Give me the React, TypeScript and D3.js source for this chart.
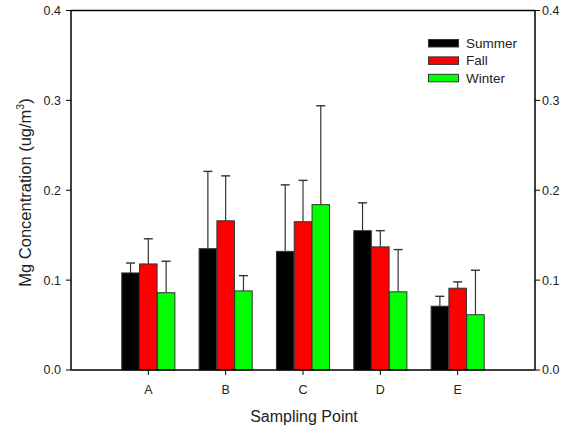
import React from "react";
import * as d3 from "d3";

const categories = ["A", "B", "C", "D", "E"];
const seriesNames = ["Summer", "Fall", "Winter"];
const seriesColors = ["#000000", "#ff0000", "#00ff00"];
const summer = [0.108, 0.135, 0.132, 0.155, 0.071];
const fall = [0.118, 0.166, 0.165, 0.137, 0.091];
const winter = [0.086, 0.088, 0.184, 0.087, 0.0615];
const summerErr = [0.011, 0.086, 0.074, 0.031, 0.011];
const fallErr = [0.028, 0.05, 0.046, 0.018, 0.007];
const winterErr = [0.035, 0.017, 0.11, 0.047, 0.0495];
const yTicks = [0, 0.1, 0.2, 0.3, 0.4];

const W = 571, H = 432;
const L = 71, R = 535, T = 10.5, B = 370;
const FONT = "Liberation Sans, Arial, sans-serif";

export default function App() {
  const x = d3.scalePoint<string>().domain(categories).range([L, R]).padding(1);
  const y = d3.scaleLinear().domain([0, 0.4]).range([B, T]);
  const values = [summer, fall, winter];
  const errs = [summerErr, fallErr, winterErr];
  const bw = 17.5;
  const gap = 0.3;

  return (
    <svg width={W} height={H} style={{ position: "absolute", left: 0, top: 0, background: "#fff" }}>
      <rect x={0} y={0} width={W} height={H} fill="#fff" />
      {categories.map((c, i) =>
        values.map((vals, s) => {
          const cx = (x(c) as number) + (s - 1) * (bw + gap);
          const x0 = cx - bw / 2;
          const top = y(vals[i]);
          const et = y(vals[i] + errs[s][i]);
          return (
            <g key={c + s}>
              <line x1={cx} x2={cx} y1={top} y2={et} stroke="#333" strokeWidth={1.2} />
              <line x1={cx - 4.5} x2={cx + 4.5} y1={et} y2={et} stroke="#333" strokeWidth={1.4} />
              <rect x={x0} y={top} width={bw} height={B - top} fill={seriesColors[s]} stroke="#333" strokeWidth={1} />
            </g>
          );
        })
      )}
      <line x1={L} x2={R} y1={T} y2={T} stroke="#000" strokeWidth={1.5} />
      <line x1={L} x2={R} y1={B} y2={B} stroke="#000" strokeWidth={1.5} />
      <line x1={L} x2={L} y1={T} y2={B} stroke="#000" strokeWidth={1.5} />
      <line x1={R} x2={R} y1={T} y2={B} stroke="#000" strokeWidth={1.5} />
      {yTicks.map((t) => (
        <g key={t}>
          <line x1={L - 5} x2={L} y1={y(t)} y2={y(t)} stroke="#000" strokeWidth={1} />
          <line x1={R} x2={R + 5} y1={y(t)} y2={y(t)} stroke="#000" strokeWidth={1} />
          <text x={L - 10} y={y(t)} dy="0.35em" textAnchor="end" fontFamily={FONT} fontSize={12.5} fill="#222">
            {t.toFixed(1)}
          </text>
          <text x={R + 7} y={y(t)} dy="0.35em" textAnchor="start" fontFamily={FONT} fontSize={12.5} fill="#222">
            {t.toFixed(1)}
          </text>
        </g>
      ))}
      {categories.map((c) => (
        <g key={c}>
          <line x1={x(c)} x2={x(c)} y1={B} y2={B + 5} stroke="#000" strokeWidth={1} />
          <text x={x(c)} y={394} textAnchor="middle" fontFamily={FONT} fontSize={12.5} fill="#222">
            {c}
          </text>
        </g>
      ))}
      <text x={304} y={422} textAnchor="middle" fontFamily={FONT} fontSize={16} fill="#222">
        Sampling Point
      </text>
      <text transform={`translate(31,192.5) rotate(-90)`} textAnchor="middle" fontFamily={FONT} fontSize={16.5} fill="#222">
        Mg Concentration (ug/m<tspan fontSize={10.5} dy={-7}>3</tspan><tspan dy={7}>)</tspan>
      </text>
      {seriesNames.map((n, s) => (
        <g key={n}>
          <rect x={428.5} y={39.5 + s * 17.4} width={30} height={7.5} fill={seriesColors[s]} stroke="#333" strokeWidth={1} />
          <text x={466} y={47.8 + s * 17.4} fontFamily={FONT} fontSize={13.5} fill="#222">
            {n}
          </text>
        </g>
      ))}
    </svg>
  );
}
